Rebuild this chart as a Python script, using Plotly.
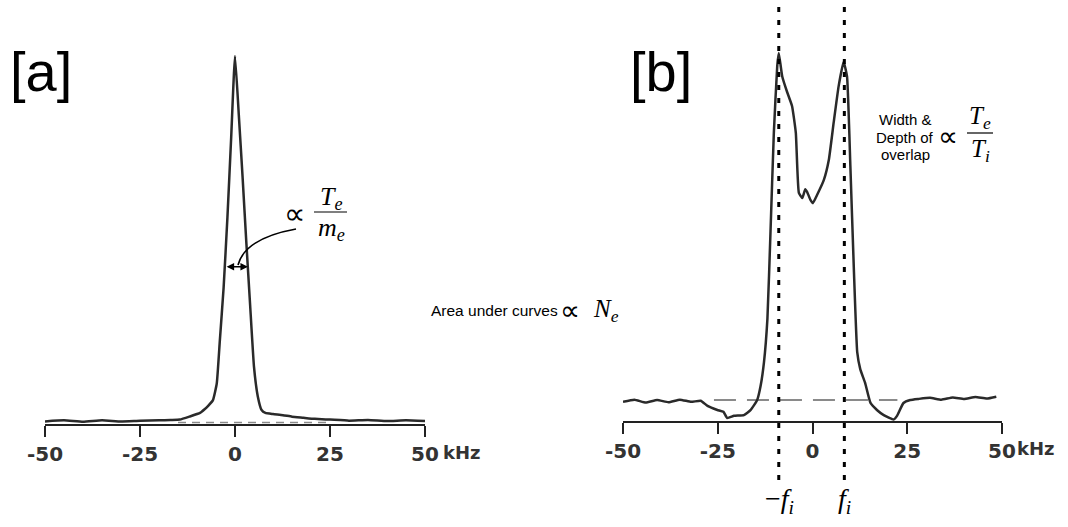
import plotly.graph_objects as go

# ---- spectrum [a]: single electron line ----
freq_a = [-50, -45, -40, -35, -30, -25, -20, -17, -14.5, -12, -9.2, -8, -7, -5.8,
          -4.8, -4, -3, -2, -1, 0, 1, 2, 3, 4, 5, 6, 7, 8, 10, 12.6, 15, 18, 21,
          25, 30, 35, 40, 45, 50]
amp_a = [0.007, 0.010, 0.006, 0.010, 0.007, 0.009, 0.010, 0.011, 0.012, 0.020,
         0.030, 0.040, 0.050, 0.065, 0.11, 0.225, 0.37, 0.56, 0.78, 1.0, 0.84,
         0.67, 0.49, 0.32, 0.155, 0.075, 0.038, 0.030, 0.027, 0.024, 0.020,
         0.017, 0.014, 0.012, 0.009, 0.011, 0.008, 0.010, 0.008]
dash_a_x = [-15, 25]
dash_a_y = [0.004, 0.004]

# ---- spectrum [b]: ion double hump ----
freq_b = [-50, -47, -44, -41, -38, -35, -32, -29.5, -27.7, -25.1, -23.5, -22.5,
          -20.7, -18.1, -16.3, -14.6, -13.7, -12.8, -11.9, -11.1, -10.2, -9.3,
          -8.9, -8.0, -6.7, -5.4, -4.4, -3.6, -2.7, -1.9, -1.4, -0.5, 0.1, 1.2,
          3.0, 4.3, 5.6, 6.9, 8.2, 9.1, 10.0, 10.9, 11.8, 12.6, 13.9, 15.3, 17.0,
          18.8, 21.4, 22.3, 24.0, 25.8, 28, 31, 34, 37, 40, 43, 46, 48.5]
amp_b = [0.052, 0.058, 0.050, 0.057, 0.051, 0.058, 0.052, 0.055, 0.041, 0.030,
         0.025, 0.008, 0.014, 0.016, 0.030, 0.057, 0.095, 0.160, 0.277, 0.508,
         0.783, 0.965, 1.0, 0.937, 0.894, 0.856, 0.783, 0.62, 0.606, 0.63, 0.622,
         0.60, 0.592, 0.614, 0.655, 0.709, 0.812, 0.91, 0.976, 0.937, 0.69,
         0.416, 0.187, 0.141, 0.103, 0.049, 0.030, 0.016, 0.004, 0.014, 0.049,
         0.057, 0.060, 0.063, 0.058, 0.064, 0.060, 0.065, 0.061, 0.066]
dash_b_x = [-26, 22.4]
dash_b_y = [0.057, 0.057]
fi_lines = [-8.9, 8.4]

tick_vals = [-50, -25, 0, 25, 50]
tick_text = ["-50", "-25", "0", "25", "50"]

W, H = 1068, 527
PX_PER_UNIT = 368.0


def px(x):
    return x / W


def py(y):
    return 1 - y / H


curve_col = "#2a2a2a"
curve_line = dict(color=curve_col, width=2.5, shape="spline", smoothing=0.4)
fig = go.Figure()
fig.add_trace(go.Scatter(x=freq_a, y=amp_a, mode="lines", xaxis="x", yaxis="y",
                         line=curve_line))
fig.add_trace(go.Scatter(x=dash_a_x, y=dash_a_y, mode="lines", xaxis="x", yaxis="y",
                         line=dict(color="#8a8a8a", width=1.5, dash="8px,6px")))
fig.add_trace(go.Scatter(x=dash_b_x, y=dash_b_y, mode="lines", xaxis="x2", yaxis="y2",
                         line=dict(color="#8a8a8a", width=2, dash="22px,11px")))
fig.add_trace(go.Scatter(x=freq_b, y=amp_b, mode="lines", xaxis="x2", yaxis="y2",
                         line=curve_line))

tickfont = dict(family="DejaVu Sans", size=20, color="#333", weight="bold")
xcommon = dict(range=[-50, 50], showline=True, linecolor="#222", linewidth=2,
               ticks="outside", ticklen=11, tickwidth=2, tickcolor="#222",
               tickvals=tick_vals, ticktext=tick_text, tickfont=tickfont,
               showgrid=False, zeroline=False, ticklabelstandoff=0,
               automargin=False)

base_a, base_b = 424, 421
fig.update_layout(
    width=W, height=H, autosize=False,
    margin=dict(l=0, r=0, t=0, b=0, pad=0, autoexpand=False),
    paper_bgcolor="white", plot_bgcolor="white",
    showlegend=False,
    xaxis=dict(domain=[px(45), px(425)], anchor="y", **xcommon),
    yaxis=dict(domain=[py(base_a), 1], range=[0, base_a / PX_PER_UNIT],
               visible=False, fixedrange=True, automargin=False),
    xaxis2=dict(domain=[px(623), px(1002)], anchor="y2", **xcommon),
    yaxis2=dict(domain=[py(base_b), 1], range=[0, base_b / PX_PER_UNIT],
                visible=False, fixedrange=True, automargin=False),
)

# vertical dotted markers at the ion lines
for f in fi_lines:
    fig.add_shape(type="line", xref="x2", yref="paper", x0=f, x1=f,
                  y0=py(480), y1=1, line=dict(color="black", width=3, dash="5px,8px"))

serif = "Liberation Serif"
sans = "Liberation Sans"
ann = []


def text(x, y, t, size, family=sans, xanchor="center", color="black", weight=None):
    font = dict(family=family, size=size, color=color)
    if weight:
        font["weight"] = weight
    ann.append(dict(x=px(x), y=py(y), xref="paper", yref="paper", text=t,
                    showarrow=False, xanchor=xanchor, yanchor="middle", font=font))


text(41, 72, "[a]", 56)
text(661, 72, "[b]", 56)

# kHz unit after the last tick
text(441, 452, "kHz", 18, family="DejaVu Sans", xanchor="left", color="#333", weight="bold")
text(1015, 448, "kHz", 18, family="DejaVu Sans", xanchor="left", color="#333", weight="bold")

# width of the electron line
text(294, 213, "∝", 30, family=serif)
text(331, 198, "<i>T<sub>e</sub></i>", 26, family=serif)
text(331, 229, "<i>m<sub>e</sub></i>", 26, family=serif)
fig.add_shape(type="line", xref="paper", yref="paper", x0=px(314), x1=px(347),
              y0=py(212), y1=py(212), line=dict(color="black", width=1.2))
ann.append(dict(x=3.4, y=0.427, ax=-2.6, ay=0.427, xref="x", yref="y",
                axref="x", ayref="y", showarrow=True, arrowside="end+start",
                arrowhead=2, arrowsize=1, arrowwidth=1.5, arrowcolor="black", text=""))
fig.add_shape(type="path", xref="x", yref="y",
              path="M 0.79,0.432 Q 2.63,0.505 16.05,0.530",
              line=dict(color="black", width=1.6))

# area note
text(429, 310, "Area under curves", 15.5, xanchor="left")
text(570, 310, "∝", 28, family=serif)
text(591, 310, "<i>N<sub>e</sub></i>", 25, family=serif, xanchor="left")

# overlap note
text(905, 119, "Width &amp;", 15)
text(905, 137, "Depth of", 15)
text(905, 154, "overlap", 15)
text(948, 136, "∝", 28, family=serif)
text(980, 117, "<i>T<sub>e</sub></i>", 25, family=serif)
text(980, 150, "<i>T<sub>i</sub></i>", 25, family=serif)
fig.add_shape(type="line", xref="paper", yref="paper", x0=px(967), x1=px(993),
              y0=py(133), y1=py(133), line=dict(color="black", width=1.2))

# ion line labels
text(796, 500, "−<i>f<sub>i</sub></i>", 28, family=serif, xanchor="right")
text(844, 500, "<i>f<sub>i</sub></i>", 28, family=serif)

fig.update_layout(annotations=ann)
fig.write_html("out.html")
